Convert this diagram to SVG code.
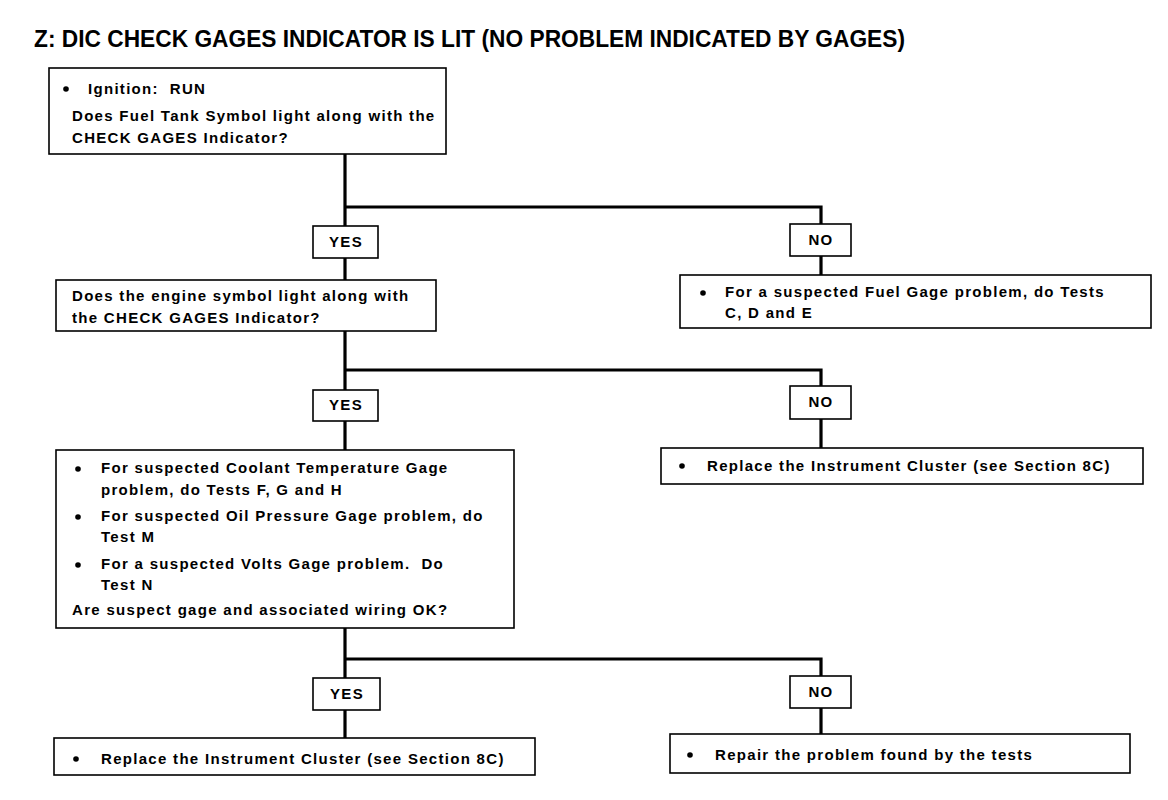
<svg xmlns="http://www.w3.org/2000/svg" width="1168" height="800" viewBox="0 0 1168 800">
<style>
  .bg { fill: #ffffff; }
  .box { fill: #ffffff; stroke: #000000; stroke-width: 1.6; }
  .lbl { fill: #ffffff; stroke: #000000; stroke-width: 1.6; }
  .wire { fill: none; stroke: #000000; stroke-width: 3.2; stroke-linejoin: miter; }
  .t { font-family: "Liberation Sans", Arial, sans-serif; font-size: 15px; font-weight: bold; fill: #000000; letter-spacing: 1.3px; }
  .title { font-family: "Liberation Sans", Arial, sans-serif; font-size: 23px; font-weight: bold; fill: #000000; }
  .c { text-anchor: middle; }
</style>
<defs>
  <circle id="dot" r="2.8" fill="#000000"/>
</defs>
<rect class="bg" x="0" y="0" width="1168" height="800"/>
<text class="title" x="34" y="47" textLength="871" lengthAdjust="spacingAndGlyphs">Z: DIC CHECK GAGES INDICATOR IS LIT (NO PROBLEM INDICATED BY GAGES)</text>

<g id="connectors">
  <path class="wire" d="M345 154 V280"/>
  <path class="wire" d="M345 207 H821 V275"/>
  <path class="wire" d="M345 331 V450"/>
  <path class="wire" d="M345 370 H821 V448"/>
  <path class="wire" d="M345 628 V738"/>
  <path class="wire" d="M345 659 H821 V734"/>
</g>

<g id="q1">
  <rect class="box" x="49" y="68" width="397" height="86"/>
  <use href="#dot" x="66" y="89"/>
  <text class="t" x="88" y="94" xml:space="preserve">Ignition:  RUN</text>
  <text class="t" x="72" y="121">Does Fuel Tank Symbol light along with the</text>
  <text class="t" x="72" y="143">CHECK GAGES Indicator?</text>
</g>

<g id="yes1">
  <rect class="lbl" x="313" y="226" width="65" height="32"/>
  <text class="t c" x="346" y="247">YES</text>
</g>
<g id="no1">
  <rect class="lbl" x="790" y="224" width="61" height="32"/>
  <text class="t c" x="821" y="245">NO</text>
</g>

<g id="q2">
  <rect class="box" x="56" y="280" width="380" height="51"/>
  <text class="t" x="72" y="301">Does the engine symbol light along with</text>
  <text class="t" x="72" y="323">the CHECK GAGES Indicator?</text>
</g>

<g id="fuel">
  <rect class="box" x="680" y="275" width="471" height="53"/>
  <use href="#dot" x="703" y="293"/>
  <text class="t" x="725" y="297">For a suspected Fuel Gage problem, do Tests</text>
  <text class="t" x="725" y="318">C, D and E</text>
</g>

<g id="yes2">
  <rect class="lbl" x="313" y="390" width="65" height="31"/>
  <text class="t c" x="346" y="410">YES</text>
</g>
<g id="no2">
  <rect class="lbl" x="790" y="386" width="61" height="33"/>
  <text class="t c" x="821" y="407">NO</text>
</g>

<g id="replace1">
  <rect class="box" x="661" y="448" width="482" height="36"/>
  <use href="#dot" x="682" y="466"/>
  <text class="t" x="707" y="471">Replace the Instrument Cluster (see Section 8C)</text>
</g>

<g id="q3">
  <rect class="box" x="56" y="450" width="458" height="178"/>
  <use href="#dot" x="78" y="469"/>
  <text class="t" x="101" y="473">For suspected Coolant Temperature Gage</text>
  <text class="t" x="101" y="495">problem, do Tests F, G and H</text>
  <use href="#dot" x="78" y="517"/>
  <text class="t" x="101" y="521">For suspected Oil Pressure Gage problem, do</text>
  <text class="t" x="101" y="542">Test M</text>
  <use href="#dot" x="78" y="565"/>
  <text class="t" x="101" y="569" xml:space="preserve">For a suspected Volts Gage problem.  Do</text>
  <text class="t" x="101" y="590">Test N</text>
  <text class="t" x="72" y="615">Are suspect gage and associated wiring OK?</text>
</g>

<g id="yes3">
  <rect class="lbl" x="313" y="678" width="67" height="32"/>
  <text class="t c" x="347" y="699">YES</text>
</g>
<g id="no3">
  <rect class="lbl" x="790" y="676" width="61" height="32"/>
  <text class="t c" x="821" y="697">NO</text>
</g>

<g id="replace2">
  <rect class="box" x="54" y="738" width="481" height="37"/>
  <use href="#dot" x="76" y="759"/>
  <text class="t" x="101" y="764">Replace the Instrument Cluster (see Section 8C)</text>
</g>

<g id="repair">
  <rect class="box" x="670" y="734" width="460" height="39"/>
  <use href="#dot" x="690" y="755"/>
  <text class="t" x="715" y="760">Repair the problem found by the tests</text>
</g>
</svg>
